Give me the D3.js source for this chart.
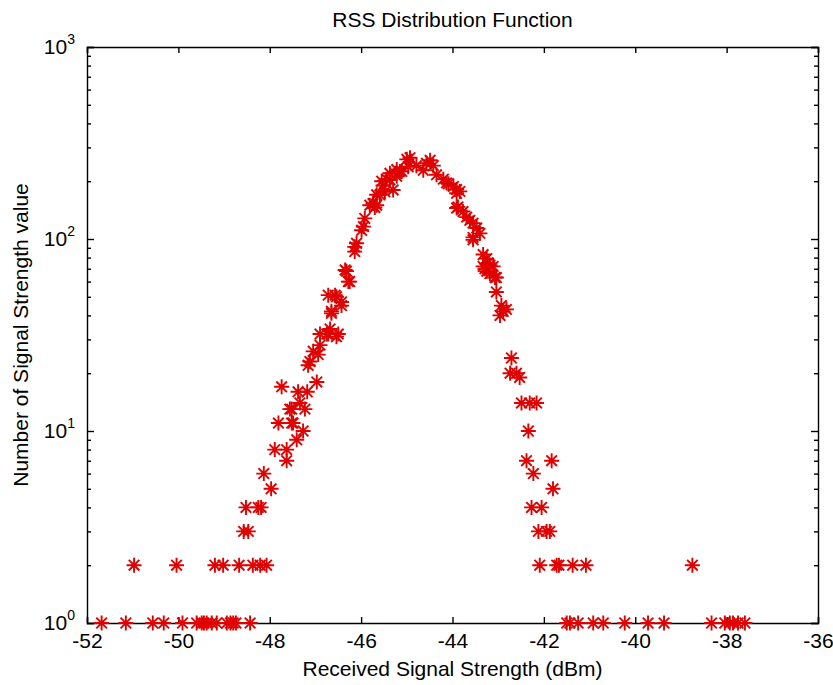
<!DOCTYPE html>
<html>
<head>
<meta charset="utf-8">
<script src="https://cdn.jsdelivr.net/npm/d3@7"></script>
<style>
  html, body { margin: 0; padding: 0; background: #fff; }
  svg text { font-family: "Liberation Sans", Arial, sans-serif; fill: #000; }
</style>
</head>
<body>
<div class="svg-container"></div>
<script>
// RSS values (dBm) and how many times each one was seen
const rss = [
  // bottom row, count 1
  -51.68, -51.15, -50.56, -50.32, -49.91, -49.60, -49.49, -49.44, -49.38, -49.27, -49.16,
  -48.94, -48.86, -48.80, -48.74, -48.43,
  -41.50, -41.43, -41.25, -40.92, -40.70, -40.23, -39.72, -39.37,
  -38.33, -38.04, -37.93, -37.86, -37.75, -37.60,
  // count 2
  -50.97, -50.04, -49.20, -49.02, -48.67, -48.37, -48.21, -48.07,
  -42.09, -41.72, -41.67, -41.37, -41.08, -38.75,
  // left flank
  -48.52, -48.25, -48.19, -48.57, -48.47, -48.13, -47.97,
  -47.89, -47.63, -47.63, -47.41, -47.27,
  -47.81, -47.52, -47.49, -47.56, -47.23, -47.52, -47.34,
  -47.38, -47.18, -47.74, -46.97,
  -47.16, -47.12, -46.94, -47.05, -46.90,
  -46.54, -46.50, -46.72, -46.75, -46.90, -46.68,
  -46.65, -46.65, -46.43, -46.43, -46.72, -46.57, -46.54,
  -46.28, -46.25, -46.35, -46.32,
  // peak
  -46.14, -46.14, -46.10, -45.99, -45.95, -45.92,
  -45.81, -45.74, -45.70, -45.66, -45.66, -45.59, -45.55, -45.52, -45.48,
  -45.44, -45.37, -45.37, -45.30, -45.22, -45.22, -45.15, -45.11,
  -45.00, -44.97, -44.93, -44.79, -44.64, -44.57, -44.49, -44.42,
  -44.35, -44.20, -44.13, -44.09, -43.98, -43.91, -43.84, -43.91,
  // right flank
  -43.91, -43.88, -43.77, -43.69, -43.62, -43.55, -43.47, -43.40, -43.55, -43.55,
  -43.33, -43.25, -43.22, -43.33, -43.18, -43.11, -43.29, -43.25, -43.18, -43.07, -43.04,
  -43.04, -42.93, -42.89, -42.82, -42.96,
  -42.71, -42.74, -42.60, -42.53,
  -42.49, -42.31, -42.16, -42.34, -42.38, -41.83, -42.23, -41.80,
  -42.27, -42.05, -42.12, -41.94, -41.87
];
const counts = [
  1, 1, 1, 1, 1, 1, 1, 1, 1, 1, 1,
  1, 1, 1, 1, 1,
  1, 1, 1, 1, 1, 1, 1, 1,
  1, 1, 1, 1, 1, 1,
  2, 2, 2, 2, 2, 2, 2, 2,
  2, 2, 2, 2, 2, 2,
  4, 4, 4, 3, 3, 6, 5,
  8, 8, 7, 9, 10,
  11, 11, 11, 13, 13, 13, 14,
  16, 16, 17, 18,
  22, 23, 25, 26, 28,
  31, 32, 32, 32, 32, 34,
  42, 41, 47, 45, 51, 51, 50,
  60, 60, 69, 68,
  86, 91, 95, 111, 116, 128,
  150, 153, 146, 150, 170, 170, 200, 190, 176,
  205, 203, 220, 180, 212, 230, 225, 225,
  260, 238, 265, 241, 228, 248, 257, 241,
  216, 205, 196, 194, 188, 181, 177, 173,
  145, 147, 139, 130, 125, 121, 114, 107, 102, 99,
  83, 79, 75, 72, 73, 72, 70, 68, 66, 63, 63,
  53, 45, 42, 43, 40,
  24, 20, 20, 19,
  14, 14, 14, 10, 7, 7, 6, 5,
  4, 4, 3, 3, 3
];

const xTicks = [-52, -50, -48, -46, -44, -42, -40, -38, -36];
const yDecades = [1, 10, 100, 1000];

const chartTitle = 'RSS Distribution Function';
const xTitle = 'Received Signal Strength (dBm)';
const yTitle = 'Number of Signal Strength value';

const W = 833, H = 685;
const M = { left: 87, right: 15, top: 47, bottom: 62 };
const FONT = 21;

const svg = d3.select('.svg-container').append('svg')
  .attr('width', W)
  .attr('height', H);

const x = d3.scaleLinear().domain([-52, -36]).range([M.left, W - M.right]);
const y = d3.scaleLog().domain([1, 1000]).range([H - M.bottom, M.top]);

// minor ticks 2..9 of each decade
const yMinor = [];
yDecades.slice(0, -1).forEach(d => {
  for (let k = 2; k <= 9; k++) yMinor.push(d * k);
});

// x axes (ticks pointing in), plain hyphen for the minus sign
const gx = svg.append('g')
  .attr('transform', `translate(0,${y.range()[0]})`)
  .call(d3.axisBottom(x).tickValues(xTicks).tickSize(-6).tickPadding(10).tickFormat(d => String(d)));
gx.selectAll('text').attr('font-size', FONT).attr('dy', '0.71em');

svg.append('g')
  .attr('transform', `translate(0,${y.range()[1]})`)
  .call(d3.axisTop(x).tickValues(xTicks).tickSize(-6).tickFormat(''));

// y axes, major + minor
const addY = (side, pos) => {
  const axis = side === 'left' ? d3.axisLeft : d3.axisRight;
  svg.append('g').attr('transform', `translate(${pos},0)`)
    .call(axis(y).tickValues(yDecades).tickSize(-7).tickFormat(''));
  svg.append('g').attr('transform', `translate(${pos},0)`)
    .call(axis(y).tickValues(yMinor).tickSize(-4).tickFormat(''))
    .select('.domain').remove();
};
addY('left', x.range()[0]);
addY('right', x.range()[1]);

svg.selectAll('.domain, .tick line').attr('stroke', '#000').attr('stroke-width', 1.4);

// y tick labels as 10^n
yDecades.forEach(d => {
  const t = svg.append('text')
    .attr('x', x.range()[0] - 12)
    .attr('y', y(d) + 7)
    .attr('text-anchor', 'end')
    .attr('font-size', FONT);
  t.append('tspan').text('10');
  t.append('tspan').attr('font-size', 14).attr('dy', -10).text(Math.round(Math.log10(d)));
});

// titles
svg.append('text')
  .attr('x', (x.range()[0] + x.range()[1]) / 2)
  .attr('y', 27)
  .attr('text-anchor', 'middle')
  .attr('font-size', FONT)
  .text(chartTitle);

svg.append('text')
  .attr('x', (x.range()[0] + x.range()[1]) / 2)
  .attr('y', 676)
  .attr('text-anchor', 'middle')
  .attr('font-size', FONT)
  .text(xTitle);

svg.append('text')
  .attr('transform', `translate(28,${(y.range()[0] + y.range()[1]) / 2}) rotate(-90)`)
  .attr('text-anchor', 'middle')
  .attr('font-size', FONT)
  .text(yTitle);

// asterisk markers
const s = 7.5, a = 5.3;
const star = `M${-s},0H${s}M0,${-s}V${s}M${-a},${-a}L${a},${a}M${-a},${a}L${a},${-a}`;

svg.append('g')
  .selectAll('path')
  .data(rss.map((v, i) => ({ rss: v, n: counts[i] })))
  .enter()
  .append('path')
  .attr('transform', d => `translate(${x(d.rss)},${y(d.n)})`)
  .attr('d', star)
  .attr('fill', 'none')
  .attr('stroke', '#e00000')
  .attr('stroke-width', 1.9);
</script>
</body>
</html>
